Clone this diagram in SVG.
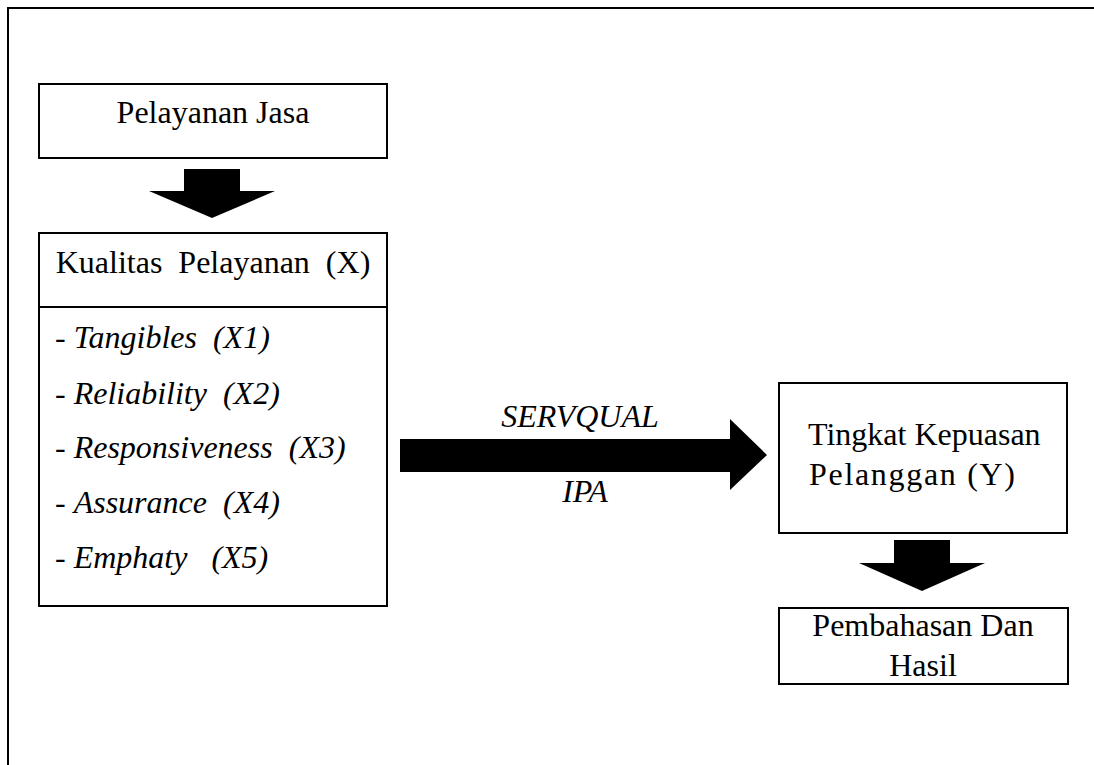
<svg xmlns="http://www.w3.org/2000/svg" width="1094" height="765" viewBox="0 0 1094 765">
<style>
.box{fill:#fff;stroke:#000;stroke-width:2}
.frame{fill:none;stroke:#000;stroke-width:2}
.t{font-family:"Liberation Serif","Times New Roman",serif;font-size:32px;fill:#000;white-space:pre}
.c{text-anchor:middle}
.i{font-style:italic}
.arr{fill:#000}
</style>
<rect width="1094" height="765" fill="#fff"/>
<path class="frame" d="M8 765 V8 H1094"/>
<g id="node-pelayanan-jasa">
<rect class="box" x="39" y="84" width="348" height="74"/>
<text class="t c" x="213" y="123">Pelayanan Jasa</text>
</g>
<g id="node-kualitas">
<rect class="box" x="39" y="233" width="348" height="373"/>
<line class="frame" x1="39" y1="307" x2="387" y2="307"/>
<text class="t c" x="213" y="273" xml:space="preserve">Kualitas  Pelayanan  (X)</text>
<text class="t" x="55" y="348" xml:space="preserve">- <tspan class="i">Tangibles  (X1)</tspan></text>
<text class="t" x="55" y="404" xml:space="preserve">- <tspan class="i">Reliability  (X2)</tspan></text>
<text class="t" x="55" y="458" xml:space="preserve">- <tspan class="i">Responsiveness  (X3)</tspan></text>
<text class="t" x="55" y="513" xml:space="preserve">- <tspan class="i">Assurance  (X4)</tspan></text>
<text class="t" x="55" y="568" xml:space="preserve">- <tspan class="i">Emphaty   (X5)</tspan></text>
</g>
<g id="node-tingkat-kepuasan">
<rect class="box" x="779" y="383" width="288" height="150"/>
<text class="t" x="808" y="445">Tingkat Kepuasan</text>
<text class="t" x="809" y="485" textLength="206" lengthAdjust="spacing">Pelanggan (Y)</text>
</g>
<g id="node-pembahasan">
<rect class="box" x="779" y="608" width="289" height="76"/>
<text class="t c" x="923" y="636">Pembahasan Dan</text>
<text class="t c" x="923" y="676">Hasil</text>
</g>
<g id="connectors">
<polygon class="arr" points="184,169 240,169 240,191 275,191 212,218 149,191 184,191"/>
<polygon class="arr" points="400,439 730,439 730,419 767,455 730,490 730,472 400,472"/>
<polygon class="arr" points="894,540 950,540 950,563 985,563 922,591 859,563 894,563"/>
<text class="t c i" x="580" y="427">SERVQUAL</text>
<text class="t c i" x="585" y="502">IPA</text>
</g>
</svg>
